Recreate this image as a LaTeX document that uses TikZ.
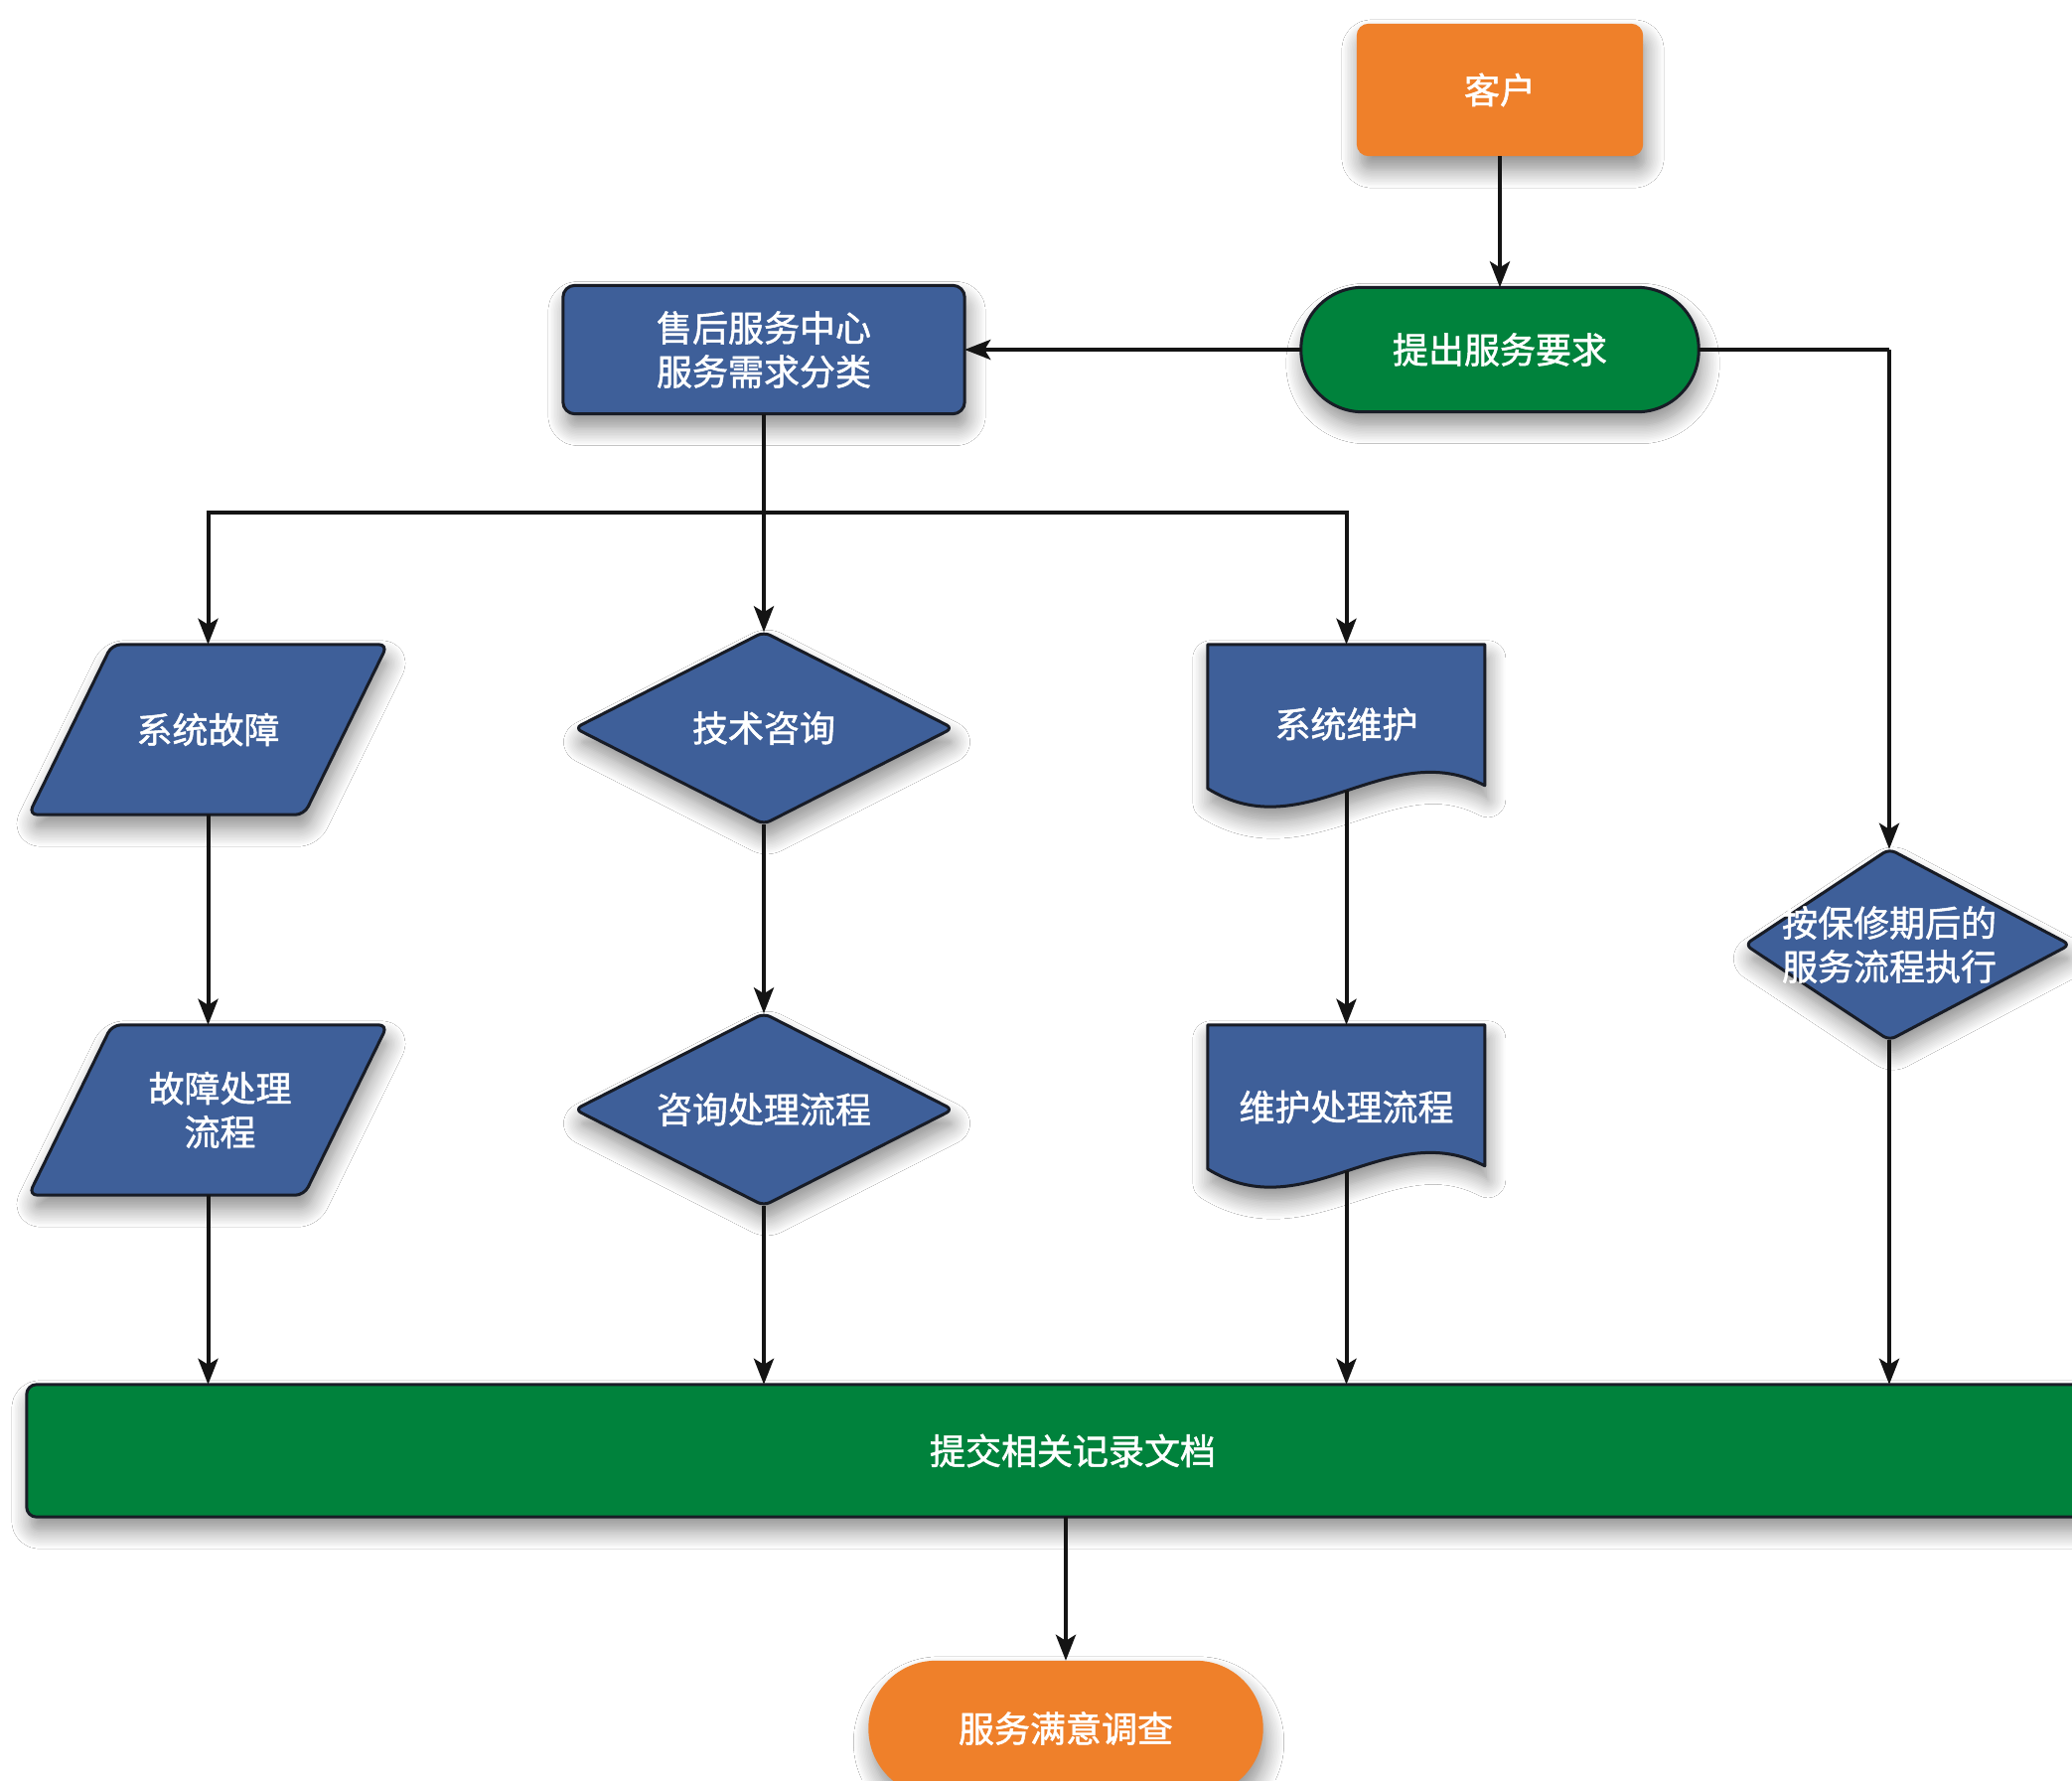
\documentclass[tikz,border=0pt]{standalone}
\usepackage{fontspec}
\newfontfamily\cjk{Noto Sans CJK SC}[BoldFont=Noto Sans CJK SC, BoldFeatures={FakeBold=1.4}]
\usetikzlibrary{arrows.meta,shadows.blur,backgrounds,calc}
\definecolor{cblue}{RGB}{62,95,153}
\definecolor{cgreen}{RGB}{0,130,60}
\definecolor{corange}{RGB}{239,128,42}
\definecolor{cedge}{RGB}{24,28,38}
\definecolor{cline}{RGB}{20,20,20}
\begin{document}
\begin{tikzpicture}[x=1pt,y=-1pt,
  box/.style={rectangle, draw=none, inner sep=0pt, align=center, text=white,
    font=\cjk\bfseries\fontsize{36}{44}\selectfont},
  shp/.style={draw=cedge, line width=3pt, line join=round,
    blur shadow={shadow xshift=3pt, shadow yshift=-14pt, shadow blur radius=18pt, shadow opacity=45, shadow blur steps=12}},
  arr/.style={draw=cline, line width=4pt, -{Stealth[length=26pt,width=20pt,inset=6pt]}},
  ln/.style={draw=cline, line width=4pt},
]
\path[use as bounding box] (0,0) rectangle (2086,1792);
\clip (0,0) rectangle (2086,1792);

% ---- nodes (text + anchors) ----
\node[box, minimum width=288pt, minimum height=133pt] (kehu) at (1510,90.5) {客户};
\node[box, minimum width=400pt, minimum height=125pt] (tichu) at (1510,352) {提出服务要求};
\node[box, minimum width=404pt, minimum height=129pt] (shouhou) at (769,352) {售后服务中心\\服务需求分类};
\node[box, minimum width=361pt, minimum height=171pt] (g1) at (209.5,734.5) {系统故障};
\node[box, minimum width=361pt, minimum height=171pt] (g2) at (209.5,1117.5) {\hspace*{24pt}故障处理\\\hspace*{24pt}流程};
\node[box, minimum width=380pt, minimum height=193pt] (jishu) at (769,733) {技术咨询};
\node[box, minimum width=380pt, minimum height=193pt] (zixun) at (769,1117) {咨询处理流程};
\node[box, minimum width=279pt, minimum height=165pt, text depth=0pt] (weihu) at (1355.5,731.5) {\raisebox{8pt}{系统维护}};
\node[box, minimum width=279pt, minimum height=165pt] (weihu2) at (1355.5,1114.5) {维护处理流程};
\node[box, minimum width=290pt, minimum height=192pt] (baoxiu) at (1902,951) {按保修期后的\\服务流程执行};
\node[box, minimum width=2106pt, minimum height=133pt] (bar) at (1080,1460.5) {提交相关记录文档};
\node[box, minimum width=397pt, minimum height=136pt] (survey) at (1073,1740) {服务满意调查};

\coordinate (w1b) at ($(weihu.north)+(0,147)$);
\coordinate (w2b) at ($(weihu2.north)+(0,147)$);
\coordinate (split) at (769,516);
\coordinate (rturn) at (1902,352);

% ---- shapes ----
\begin{scope}[on background layer]
\fill[white] (0,0) rectangle (2086,1792);
\path[shp, draw=none, fill=corange, rounded corners=12pt] (kehu.north west) rectangle (kehu.south east);
\path[shp, fill=cgreen, rounded corners=62pt] (tichu.north west) rectangle (tichu.south east);
\path[shp, fill=cblue, rounded corners=12pt] (shouhou.north west) rectangle (shouhou.south east);
\foreach \n in {g1,g2}{
  \path[shp, fill=cblue, rounded corners=9pt] ([xshift=84pt]\n.north west) -- (\n.north east)
     -- ([xshift=-84pt]\n.south east) -- (\n.south west) -- cycle;
}
\foreach \n in {jishu,zixun}{
  \path[shp, fill=cblue, rounded corners=7pt] (\n.north) -- (\n.east) -- (\n.south) -- (\n.west) -- cycle;
}
\path[shp, fill=cblue, rounded corners=7pt] (baoxiu.north) -- (2084,951) -- (baoxiu.south) -- (baoxiu.west) -- cycle;
\foreach \n in {weihu,weihu2}{
  \begin{scope}[shift={(\n.north west)}]
  \path[shp, fill=cblue] (0,0) -- (279,0) -- (279,142) .. controls (181,91) and (98,206) .. (0,145) -- cycle;
  \end{scope}
}
\path[shp, fill=cgreen, rounded corners=10pt] (bar.north west) rectangle (bar.south east);
\path[shp, draw=none, fill=corange, rounded corners=68pt] (survey.north west) rectangle (survey.south east);
\end{scope}

% ---- connectors ----
\draw[arr] (kehu.south) -- (tichu.north);
\draw[arr] (tichu.west) -- (shouhou.east);
\draw[ln] (tichu.east) -- (rturn);
\draw[arr] (rturn) -- (baoxiu.north);
\draw[arr] (shouhou.south) -- (jishu.north);
\draw[arr] (split) -| (g1.north);
\draw[arr] (split) -| (weihu.north);
\draw[arr] (g1.south) -- (g2.north);
\draw[arr] (jishu.south) -- (zixun.north);
\draw[arr] (w1b) -- (weihu2.north);
\draw[arr] (g2.south) -- (g2.south |- bar.north);
\draw[arr] (zixun.south) -- (zixun.south |- bar.north);
\draw[arr] (w2b) -- (w2b |- bar.north);
\draw[arr] (baoxiu.south) -- (baoxiu.south |- bar.north);
\draw[arr] (survey.north |- bar.south) -- (survey.north);
\end{tikzpicture}
\end{document}
